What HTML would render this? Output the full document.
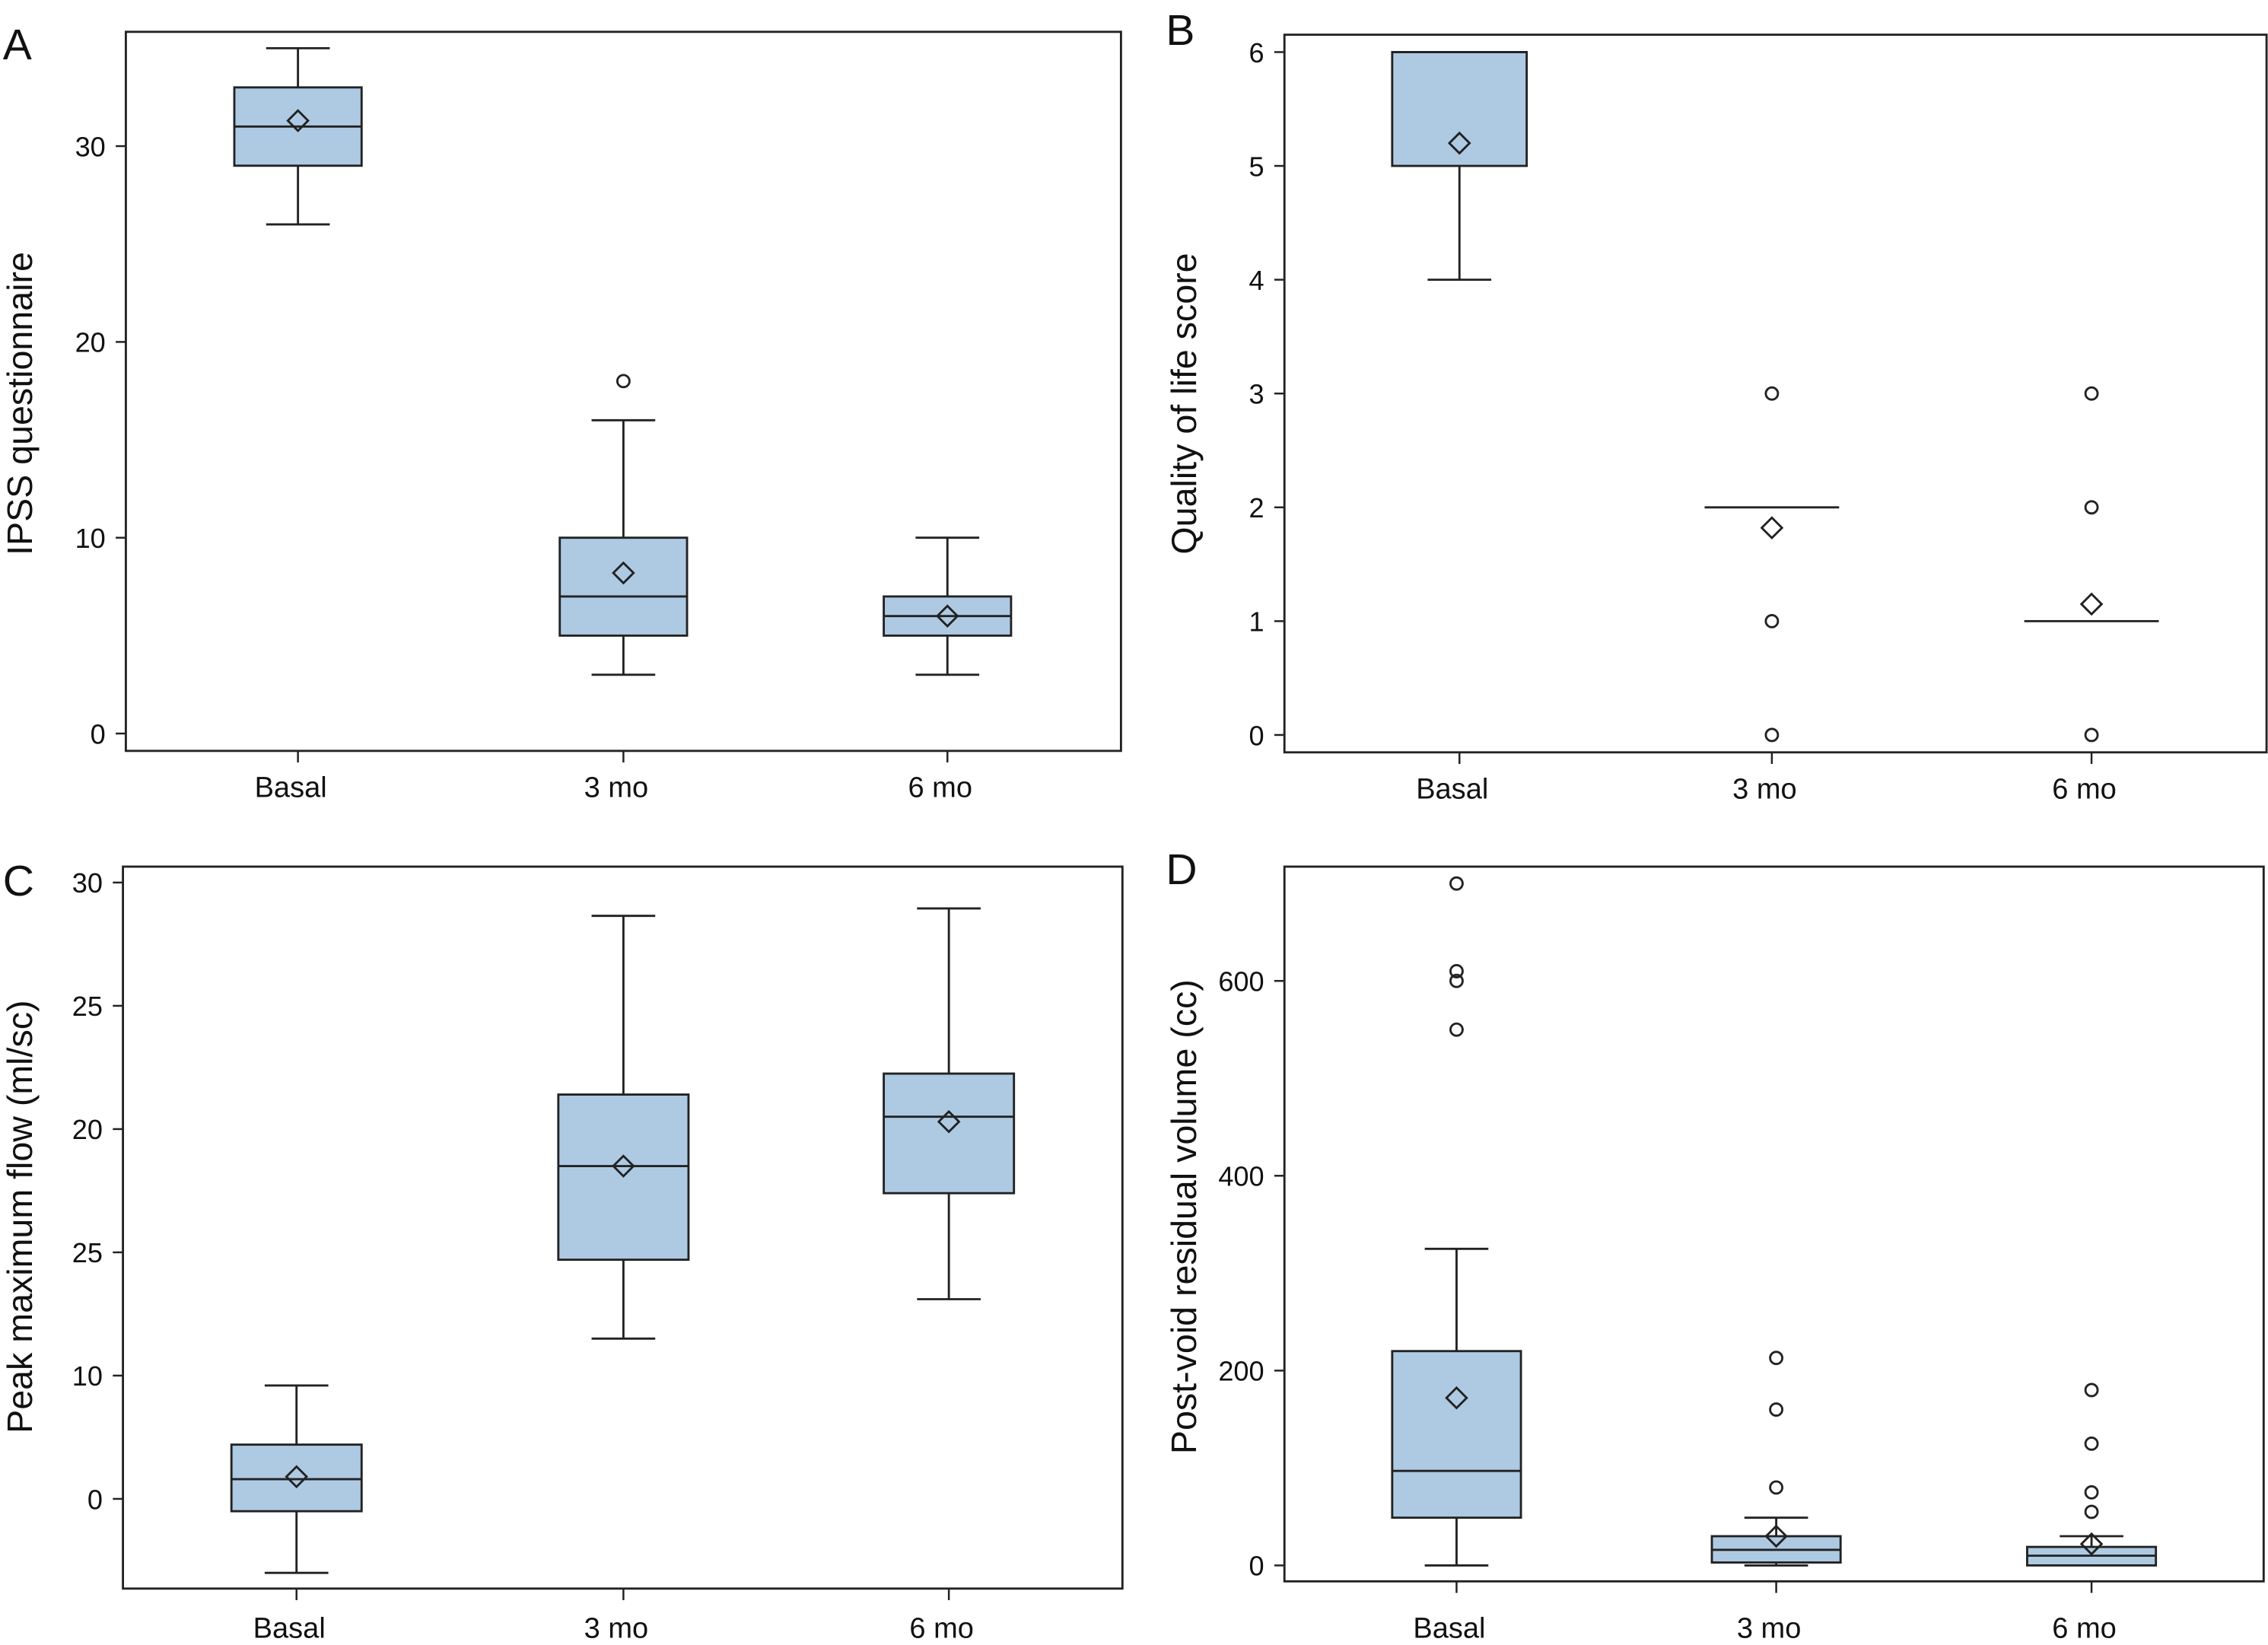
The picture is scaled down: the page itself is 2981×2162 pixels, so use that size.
<!DOCTYPE html>
<html><head><meta charset="utf-8">
<style>
html,body{margin:0;padding:0;background:#fff;}
svg{display:block;}
text{font-family:"Liberation Sans Narrow","Liberation Sans",sans-serif;fill:#111;}
</style></head>
<body>
<svg id="fig" width="2981" height="2162" viewBox="0 0 1568 1137" preserveAspectRatio="none" xmlns="http://www.w3.org/2000/svg"></svg>
<script>
// ---- data ----
const categories = ["Basal","3 mo","6 mo"];
// Panel A: IPSS
const aLow=[26,3,3], aQ1=[29,5,5], aMed=[31,7,6], aQ3=[33,10,7], aHigh=[35,16,10], aMean=[31.3,8.2,6.0];
const aOut=[[],[18],[]];
const aTicks=[0,10,20,30], aTickLabels=["0","10","20","30"];
// Panel B: Quality of life
const bLow=[4,2,1], bQ1=[5,2,1], bMed=[6,2,1], bQ3=[6,2,1], bHigh=[6,2,1], bMean=[5.2,1.82,1.15];
const bOut=[[],[3,1,0],[3,2,0]];
const bTicks=[0,1,2,3,4,5,6], bTickLabels=["0","1","2","3","4","5","6"];
// Panel C: Peak maximum flow
const cLow=[2.0,11.5,13.1], cQ1=[4.5,14.7,17.4], cMed=[5.8,18.5,20.5], cQ3=[7.2,21.4,22.25], cHigh=[9.6,28.65,28.95], cMean=[5.9,18.5,20.3];
const cOut=[[],[],[]];
const cTicks=[5,10,15,20,25,30], cTickLabels=["0","10","25","20","25","30"];
// Panel D: Post-void residual
const dLow=[0,0,0], dQ1=[49,3,0], dMed=[97,16,10], dQ3=[220,30,19], dHigh=[325,49,30], dMean=[172,30,22];
const dOut=[[700,610,600,550],[213,160,80],[180,125,75,55]];
const dTicks=[0,200,400,600], dTickLabels=["0","200","400","600"];

const NS="http://www.w3.org/2000/svg";
const svg=document.getElementById('fig');
function mk(tag,attrs,parent){const e=document.createElementNS(NS,tag);for(const k in attrs)e.setAttribute(k,attrs[k]);(parent||svg).appendChild(e);return e;}

const panels=[
 {id:'a',letter:'A',lx:2,ly:41,box:[87,22,775,519],xs:[206,431,655],bw:88,v0:0,y0:507,v1:30,y1:101,xl:32,
  low:aLow,q1:aQ1,med:aMed,q3:aQ3,high:aHigh,mean:aMean,out:aOut,ticks:aTicks,tl:aTickLabels,title:'IPSS questionnaire',tx:22,ty:279},
 {id:'b',letter:'B',lx:806,ly:31,box:[888,24,1567,520],xs:[1009,1225,1446],bw:93,v0:0,y0:508,v1:6,y1:36,xl:32,
  low:bLow,q1:bQ1,med:bMed,q3:bQ3,high:bHigh,mean:bMean,out:bOut,ticks:bTicks,tl:bTickLabels,title:'Quality of life score',tx:827,ty:279},
 {id:'c',letter:'C',lx:2,ly:619,box:[85,599,776,1098],xs:[205,431,656],bw:90,v0:5,y0:1036,v1:30,y1:610,xl:34,
  low:cLow,q1:cQ1,med:cMed,q3:cQ3,high:cHigh,mean:cMean,out:cOut,ticks:cTicks,tl:cTickLabels,title:'Peak maximum flow (ml/sc)',tx:22,ty:841},
 {id:'d',letter:'D',lx:806,ly:611,box:[888,599,1565,1093],xs:[1007,1228,1446],bw:89,v0:0,y0:1082,v1:600,y1:678,xl:39,
  low:dLow,q1:dQ1,med:dMed,q3:dQ3,high:dHigh,mean:dMean,out:dOut,ticks:dTicks,tl:dTickLabels,title:'Post-void residual volume (cc)',tx:827,ty:841}
];

panels.forEach(p=>{
 const g=mk('g',{});
 
 
 const Y=v=>p.y0+(v-p.v0)*(p.y1-p.y0)/(p.v1-p.v0);
 const [x0,yt,x1,yb]=p.box;
 const lt=mk('text',{x:p.lx,y:p.ly,'font-size':30},g);lt.textContent=p.letter;
 
 
 const fr=mk('rect',{x:x0,y:yt,width:x1-x0,height:yb-yt,fill:'none',stroke:'#222','stroke-width':1.5},g);
 
 
 p.ticks.forEach((t,i)=>{
  const y=Y(t);
  mk('line',{x1:x0-7,x2:x0,y1:y,y2:y,stroke:'#222','stroke-width':1.3},g);
  const tx=mk('text',{x:x0-14,y:y+7,'font-size':19,'text-anchor':'end'},g);tx.textContent=p.tl[i];
  
  
 });
 categories.forEach((c,i)=>{
  const x=p.xs[i];
  mk('line',{x1:x,x2:x,y1:yb,y2:yb+8,stroke:'#222','stroke-width':1.3},g);
  const tx=mk('text',{x:x-5,y:yb+p.xl,'font-size':20,'text-anchor':'middle'},g);tx.textContent=c;
  
  
 });
 const tt=mk('text',{x:0,y:0,'font-size':24.5,'text-anchor':'middle',transform:`translate(${p.tx},${p.ty}) rotate(-90)`,style:'font-family:"Liberation Sans",sans-serif'},g);
 tt.textContent=p.title;
 
 
 categories.forEach((c,i)=>{
  const x=p.xs[i],hw=p.bw/2,cw=22;
  const bg=mk('g',{},g);
  
  
  const st={stroke:'#222','stroke-width':1.5};
  if(p.high[i]>p.q3[i]){mk('line',Object.assign({x1:x,x2:x,y1:Y(p.q3[i]),y2:Y(p.high[i])},st),bg);mk('line',Object.assign({x1:x-cw,x2:x+cw,y1:Y(p.high[i]),y2:Y(p.high[i])},st),bg);}
  if(p.low[i]<p.q1[i]){mk('line',Object.assign({x1:x,x2:x,y1:Y(p.q1[i]),y2:Y(p.low[i])},st),bg);mk('line',Object.assign({x1:x-cw,x2:x+cw,y1:Y(p.low[i]),y2:Y(p.low[i])},st),bg);}
  if(p.q3[i]>p.q1[i]) mk('rect',Object.assign({x:x-hw,y:Y(p.q3[i]),width:p.bw,height:Y(p.q1[i])-Y(p.q3[i]),fill:'#aecae3'},st),bg);
  mk('line',Object.assign({x1:x-hw,x2:x+hw,y1:Y(p.med[i]),y2:Y(p.med[i])},st),bg);
  const my=Y(p.mean[i]),d=7;
  const mm=mk('polygon',Object.assign({points:`${x},${my-d} ${x+d},${my} ${x},${my+d} ${x-d},${my}`,fill:'none'},st),bg);
  
  
  p.out[i].forEach(o=>{
   const oc=mk('circle',Object.assign({cx:x,cy:Y(o),r:4.2,fill:'none'},st),bg);
   
   
  });
 });
});
</script>
</body></html>
